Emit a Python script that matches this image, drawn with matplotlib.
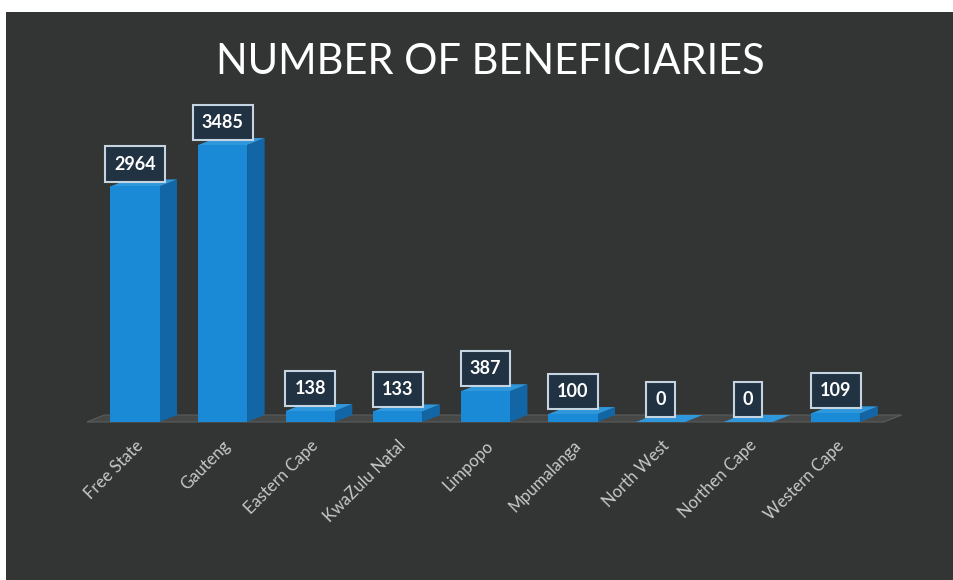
import numpy as np
import matplotlib.pyplot as plt
from matplotlib.patches import Polygon, Rectangle

provinces = ["Free State", "Gauteng", "Eastern Cape", "KwaZulu Natal", "Limpopo",
             "Mpumalanga", "North West", "Northen Cape", "Western Cape"]
beneficiaries = [2964, 3485, 138, 133, 387, 100, 0, 0, 109]

BG = "#323533"
FRONT = "#1a8ad6"
SIDE = "#1266a6"
TOP = "#2f97dc"
FLOOR = "#454846"

W, H = 954, 580
fig = plt.figure(figsize=(W / 100, H / 100), dpi=100)
fig.patch.set_facecolor("white")
# dark chart area (thin white margin on top and left)
fig.patches.append(Rectangle((6 / W, 0), 1, (H - 12) / H, transform=fig.transFigure,
                             facecolor=BG, edgecolor="none", zorder=-5))

# axes placed so the floor sits at y=422 px and categories are ~87.6 px apart
px_per_cat = 87.6
x0_px = 135
floor_px = 422
top_px = 20
ax = fig.add_axes([0, (H - floor_px) / H, 1, (floor_px - top_px) / H])
ax.set_facecolor("none")
ax.set_zorder(2)
ax.set_xlim(-x0_px / px_per_cat, (W - x0_px) / px_per_cat)
px_per_unit = 277 / 3485
ax.set_ylim(0, (floor_px - top_px) / px_per_unit)

x = np.arange(len(provinces))
vals = np.array(beneficiaries, dtype=float)
bw = 0.56
dx = 0.20
dy = 7 / px_per_unit

# floor plane
fl, fr = x[0] - 0.55, x[-1] + 0.55
ax.add_patch(Polygon([(fl, 0), (fr, 0), (fr + dx, dy), (fl + dx, dy)],
                     closed=True, facecolor=FLOOR, edgecolor="#5a5d5b", lw=0.8,
                     zorder=1, clip_on=False))

# bars with a side and top face for the 3D look
for xi, v in zip(x, vals):
    l, r = xi - bw / 2, xi + bw / 2
    ax.add_patch(Polygon([(r, 0), (r + dx, dy), (r + dx, v + dy), (r, v)],
                         closed=True, facecolor=SIDE, edgecolor="none", zorder=2))
    ax.add_patch(Polygon([(l, v), (r, v), (r + dx, v + dy), (l + dx, v + dy)],
                         closed=True, facecolor=TOP, edgecolor="none", zorder=2))
ax.bar(x, vals, width=bw, color=FRONT, edgecolor="none", zorder=3)

# value labels in framed boxes
for xi, v in zip(x, vals):
    ax.annotate(f"{int(v)}", (xi, v), xytext=(0, 10), textcoords="offset points",
                ha="center", va="bottom", color="white", fontsize=13,
                fontweight="bold", family="Lato", zorder=5,
                bbox=dict(boxstyle="square,pad=0.5", facecolor="#213242",
                          edgecolor="#c4d4e0", linewidth=1.5))

ax.set_xticks(x)
ax.set_xticklabels(provinces, rotation=45, ha="right", va="top",
                   rotation_mode="anchor", color="#c8c8c8", fontsize=12,
                   family="Lato")
ax.tick_params(axis="x", length=0, pad=11)
ax.set_yticks([])
for s in ax.spines.values():
    s.set_visible(False)

fig.text(490 / W, 1 - 62 / H, "NUMBER OF BENEFICIARIES", ha="center", va="center",
         color="white", fontsize=30, family="Lato")

fig.savefig("out.png", dpi=100, facecolor=fig.get_facecolor())
